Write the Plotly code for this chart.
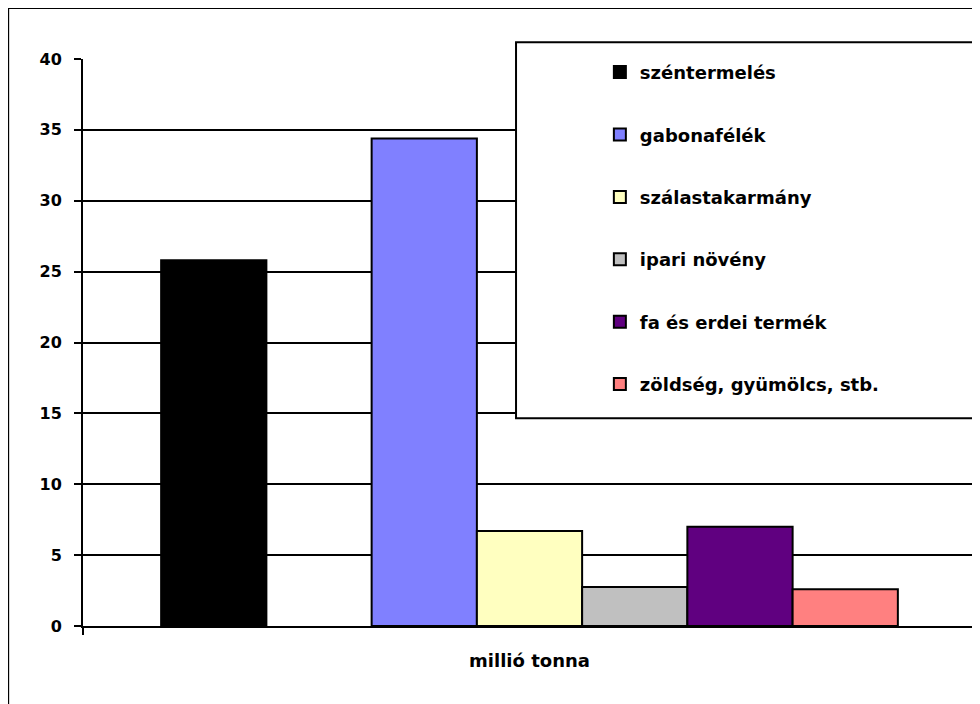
import plotly.graph_objects as go

categories = ["millió tonna"]
series_names = ["széntermelés", "gabonafélék", "szálastakarmány", "ipari növény",
                "fa és erdei termék", "zöldség, gyümölcs, stb."]
series_values = [25.8, 34.4, 6.7, 2.75, 7.0, 2.6]
series_colors = ["#000000", "#8080FF", "#FFFFC0", "#C0C0C0", "#600080", "#FF8080"]
# the chart has an empty (unnamed, no value) series slot after the first series
empty_slot_after = 0
y_ticks = [0, 5, 10, 15, 20, 25, 30, 35, 40]

FONT = "DejaVu Sans"

fig = go.Figure()
for i, (name, val, col) in enumerate(zip(series_names, series_values, series_colors)):
    fig.add_trace(go.Bar(
        x=categories, y=[val], name=name,
        marker=dict(color=col, line=dict(color="#000000", width=2)),
        legendgroup=name,
    ))
    if i == empty_slot_after:
        fig.add_trace(go.Bar(x=categories, y=[None], name="", showlegend=False,
                             marker=dict(color="#802060", line=dict(color="#000000", width=2))))

# page has an 8px body margin; plot area in page pixels: x 83..978, y 59..626
fig.update_layout(
    width=972, height=696,
    margin=dict(l=75, r=2, t=51, b=78),
    paper_bgcolor="white", plot_bgcolor="white",
    barmode="group", bargap=0.175, bargroupgap=0,
    font=dict(family=FONT, size=16, color="#000000", weight="bold"),
    showlegend=True,
    legend=dict(
        x=0.5788, y=1.009, xanchor="left", yanchor="top",
        bgcolor="rgba(0,0,0,0)", borderwidth=0,
        font=dict(family=FONT, size=18, color="#000000", weight="bold"),
        tracegroupgap=36, maxheight=650,
    ),
    xaxis=dict(
        type="category", range=[-0.5, 0.5],
        showline=True, linecolor="#000000", linewidth=2,
        ticks="outside", tickson="boundaries", ticklen=7, tickwidth=2, tickcolor="#000000",
        showgrid=False, zeroline=False,
        tickfont=dict(family=FONT, size=18, color="#000000", weight="bold"),
        ticklabelstandoff=17,
    ),
    yaxis=dict(
        range=[0, 40], tickvals=y_ticks,
        showline=True, linecolor="#000000", linewidth=2, mirror=True,
        ticks="outside", ticklen=7, tickwidth=2, tickcolor="#000000",
        showgrid=True, gridcolor="#000000", gridwidth=2, zeroline=False,
        tickfont=dict(family=FONT, size=16, color="#000000", weight="bold"),
        ticklabelstandoff=9,
    ),
    shapes=[
        # legend box (extends past the right edge)
        dict(type="rect", xref="paper", yref="paper",
             x0=(517 - 83) / 895, x1=1.03, y0=(626 - 418.3) / 567, y1=(626 - 42.3) / 567,
             fillcolor="white", line=dict(color="#000000", width=2), layer="above"),
        # chart area border (extends past right and bottom)
        dict(type="rect", xref="paper", yref="paper",
             x0=(8 - 83) / 895, x1=1.05, y0=-0.3, y1=(626 - 8) / 567,
             fillcolor="rgba(0,0,0,0)", line=dict(color="#000000", width=2), layer="above"),
    ],
)

fig.write_html("out.html")
